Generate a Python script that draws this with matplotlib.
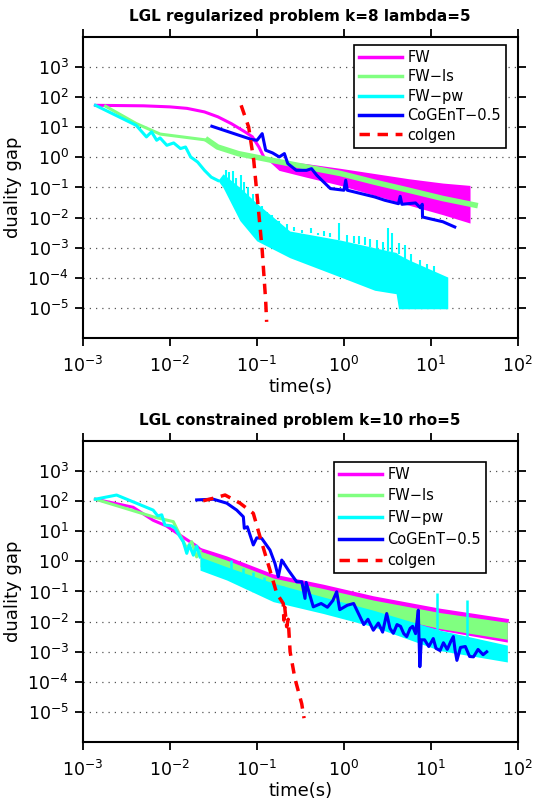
import numpy as np
import matplotlib
matplotlib.use("Agg")
import matplotlib.pyplot as plt
from matplotlib.ticker import FixedLocator, LogFormatterMathtext, NullLocator

plt.rcParams['font.family'] = ['DejaVu Sans']
plt.rcParams['mathtext.default'] = 'regular'

# ---------------- top panel: regularized problem ----------------
reg_fw_t = [1.40e-3, 5e-3, 0.0101, 0.0158, 0.0251, 0.0358, 0.0513, 0.0738, 0.0891, 0.106, 0.121]
reg_fw_g = [53, 51, 47, 42, 32, 22, 13, 6.9, 4.8, 2.2, 1.0]
reg_fw_band_t = [0.121, 0.15, 0.18, 0.37, 0.92, 2.26, 5.58, 13.8, 28.3]
reg_fw_band_hi = [1.0, 0.84, 0.78, 0.62, 0.43, 0.29, 0.195, 0.14, 0.117]
reg_fw_band_lo = [1.0, 0.6, 0.37, 0.22, 0.117, 0.055, 0.026, 0.0125, 0.0066]

reg_ls_t = [1.83e-3, 4.12e-3, 7.76e-3, 0.0274, 0.0355, 0.0617, 0.151, 0.37, 0.92, 2.26, 5.58, 13.8, 32.4]
reg_ls_g = [49.5, 13.2, 5.9, 3.7, 2.2, 1.32, 0.79, 0.48, 0.29, 0.15, 0.081, 0.043, 0.026]

reg_pw_t = [1.40e-3, 4.12e-3, 5.4e-3, 6.18e-3, 7.08e-3, 7.75e-3, 9.27e-3, 0.0111, 0.0133,
            0.0152, 0.0174, 0.0209, 0.0251, 0.030, 0.0358]
reg_pw_g = [53, 11.5, 4.75, 7.0, 3.68, 4.4, 2.5, 3.0, 1.95, 2.2, 1.03, 0.70, 0.37, 0.22, 0.17]
reg_pw_band_t = [0.0358, 0.041, 0.064, 0.1, 0.24, 0.92, 2.27, 4.0, 4.27, 5.58, 15.7]
reg_pw_band_hi = [0.17, 0.285, 0.1, 0.03, 3.6e-3, 1.8e-3, 1e-3, 7e-4, 6e-4, 4e-4, 1.07e-4]
reg_pw_band_lo = [0.17, 0.1, 8e-3, 1.7e-3, 4.7e-4, 1.07e-4, 3.9e-5, 3.0e-5, 9.5e-6, 9.5e-6, 9.5e-6]
reg_pw_spike_t = [0.044, 0.048, 0.053, 0.058, 0.066, 0.072, 0.08, 0.09, 0.1, 0.115, 0.13,
                  0.15, 0.18, 0.22, 0.27, 0.33, 0.42, 0.5, 0.6, 0.7, 0.88, 1.1, 1.3, 1.5,
                  1.75, 2.0, 2.4, 2.8, 3.25, 3.6, 4.3, 5.0, 6.0, 7.5, 9.0, 11.0]
reg_pw_spike_g = [0.37, 0.32, 0.36, 0.2, 0.25, 0.15, 0.1, 0.06, 0.04, 0.025, 0.015,
                  0.012, 8e-3, 6e-3, 5e-3, 4e-3, 4.7e-3, 3.2e-3, 3.5e-3, 3e-3, 6.6e-3, 2.6e-3,
                  2.4e-3, 2.5e-3, 2.2e-3, 2.0e-3, 1.8e-3, 1.6e-3, 4.4e-3, 3.0e-3, 1.4e-3, 1.2e-3,
                  6e-4, 4e-4, 3e-4, 2.5e-4]
reg_pw_spike_base = [0.2, 0.15, 0.12, 0.1, 0.08, 0.06, 0.045, 0.035, 0.03, 0.015, 8e-3,
                     6e-3, 5e-3, 4e-3, 3.5e-3, 3e-3, 3e-3, 2.6e-3, 2.5e-3, 2.2e-3, 1.8e-3, 1.6e-3,
                     1.4e-3, 1.3e-3, 1.2e-3, 1.1e-3, 9e-4, 8e-4, 8e-4, 7e-4, 6e-4, 4e-4,
                     3e-4, 2.5e-4, 2e-4, 1.5e-4]

reg_cg_t = [0.0305, 0.0883, 0.101, 0.1156, 0.1267, 0.152, 0.1816, 0.208, 0.2276, 0.285, 0.373,
            0.427, 0.49, 0.561, 0.703, 1.007, 1.054, 1.10, 2.27, 2.97, 4.26, 4.46, 4.66, 6.69,
            7.6, 8.0, 8.05, 9.6, 13.8, 18.9]
reg_cg_g = [10.7, 3.87, 3.68, 6.1, 1.72, 1.40, 1.03, 1.33, 0.62, 0.37, 0.37, 0.42, 0.254, 0.173,
            0.092, 0.081, 0.173, 0.081, 0.0485, 0.0376, 0.029, 0.051, 0.0277, 0.0307, 0.0213,
            0.0277, 0.0105, 0.0093, 0.0073, 0.0049]

reg_colgen_t = [0.0662, 0.0807, 0.0924, 0.1057, 0.1156, 0.1267, 0.130]
reg_colgen_g = [53, 10.2, 0.80, 0.0136, 8.2e-4, 1.8e-5, 3.5e-6]

# ---------------- bottom panel: constrained problem ----------------
con_band_t = [0.0223, 0.0452, 0.155, 0.583, 2.19, 12.8, 76]
con_fw_t = [1.40e-3, 3.8e-3, 6.45e-3, 9.2e-3, 0.0131, 0.0204, 0.0223]
con_fw_g = [115, 62, 23, 14.8, 7.4, 3.2, 2.5]
con_fw_hi = [2.5, 1.3, 0.33, 0.15, 0.062, 0.024, 0.011]
con_fw_lo = [1.6, 0.7, 0.15, 0.05, 0.017, 0.0052, 0.0021]

con_ls_t = [1.40e-3, 6.45e-3, 0.011, 0.0131, 0.0157, 0.0179, 0.0204, 0.0223]
con_ls_g = [115, 30, 20.7, 7.4, 2.7, 4.5, 1.4, 2.2]
con_ls_hi = [2.2, 1.1, 0.28, 0.125, 0.052, 0.02, 0.0095]
con_ls_lo = [0.66, 0.40, 0.143, 0.051, 0.0186, 5.9e-3, 2.6e-3]

con_pw_t = [1.40e-3, 2.45e-3, 6.45e-3, 7.3e-3, 8.1e-3, 8.8e-3, 0.0105, 0.0115, 0.0131, 0.0143,
            0.0157, 0.0168, 0.0187, 0.0204, 0.0223]
con_pw_g = [115, 158, 50, 32, 35, 16, 15, 12.6, 6.6, 4.5, 1.84, 3.5, 1.6, 3.2, 1.4]
con_pw_hi = [1.4, 0.66, 0.19, 0.066, 0.024, 5.2e-3, 1.66e-3]
con_pw_lo = [0.51, 0.24, 0.046, 0.0186, 6.8e-3, 1.1e-3, 4.6e-4]
con_pw_spike_t = [0.05, 0.07, 0.09, 0.12, 0.2, 0.3, 0.45, 11.7, 26]
con_pw_spike_g = [1.1, 0.6, 0.45, 0.3, 0.15, 0.09, 0.06, 0.086, 0.051]
con_pw_spike_base = [0.5, 0.3, 0.2, 0.12, 0.08, 0.05, 0.035, 4e-3, 2.5e-3]

con_cg_t = [0.0204, 0.0317, 0.0452, 0.0589, 0.0702, 0.072, 0.078, 0.0914, 0.1, 0.114, 0.142,
            0.162, 0.177, 0.194, 0.231, 0.288, 0.33, 0.359, 0.37, 0.447, 0.55, 0.65, 0.75, 0.83,
            0.9, 1.1, 1.3, 1.54, 1.7, 1.9, 2.19, 2.5, 2.8, 3.12, 3.4, 3.72, 4.1, 4.5, 4.9, 5.3,
            5.8, 6.2, 6.7, 7.2, 7.3, 7.5, 7.8, 8.5, 9.5, 10.7, 11.5, 12.8, 14, 15.5, 17, 18.2,
            19, 20, 22, 25, 28, 31, 35, 40, 44]
con_cg_g = [109, 115, 85, 50, 30, 12.5, 14, 3.5, 6, 5.8, 2.37, 0.855, 0.31, 1.1, 0.51, 0.21,
            0.21, 0.059, 0.2, 0.031, 0.04, 0.03, 0.05, 0.098, 0.025, 0.035, 0.04, 0.0145, 0.008,
            0.012, 5.2e-3, 9e-3, 4.5e-3, 0.0186, 6e-3, 4.1e-3, 8e-3, 7e-3, 4e-3, 3.2e-3, 6e-3,
            7e-3, 4e-3, 0.024, 5e-3, 3.2e-4, 2.5e-3, 2.5e-3, 1.5e-3, 2.75e-3, 1.3e-3, 1.1e-3,
            2e-3, 1.2e-3, 2.2e-3, 3.2e-3, 1.2e-3, 5.2e-4, 1.4e-3, 1.5e-3, 7e-4, 6.8e-4, 1.2e-3,
            8e-4, 1.0e-3]

con_colgen_t = [0.0243, 0.0347, 0.0433, 0.0643, 0.0914, 0.109, 0.142, 0.17, 0.202, 0.205, 0.21,
                0.221, 0.23, 0.242, 0.275, 0.329, 0.35]
con_colgen_g = [102, 132, 158, 85, 39, 6.6, 0.51, 0.086, 0.04, 0.0112, 0.03, 6.8e-3, 0.012,
                1e-3, 1.3e-4, 1.9e-5, 6.3e-6]

labels = ['FW', 'FW\u2212ls', 'FW\u2212pw', 'CoGEnT\u22120.5', 'colgen']
c_fw, c_ls, c_pw, c_cg, c_red = '#ff00ff', '#80ff80', '#00ffff', '#0000ff', '#ff0000'
y_ticks = [10.0 ** k for k in range(-5, 4)]
x_ticks = [10.0 ** k for k in range(-3, 3)]

fig = plt.figure(figsize=(5.34, 8.01), dpi=100)
ax1 = fig.add_axes([0.1549, 0.5777, 0.8146, 0.3765])
ax2 = fig.add_axes([0.1549, 0.0733, 0.8146, 0.3765])


def style(ax, title):
    ax.set_xscale('log')
    ax.set_yscale('log')
    ax.set_xlim(1e-3, 1e2)
    ax.set_ylim(1e-6, 1e4)
    ax.xaxis.set_major_locator(FixedLocator(x_ticks))
    ax.yaxis.set_major_locator(FixedLocator(y_ticks))
    ax.xaxis.set_minor_locator(NullLocator())
    ax.yaxis.set_minor_locator(NullLocator())
    ax.xaxis.set_major_formatter(LogFormatterMathtext())
    ax.yaxis.set_major_formatter(LogFormatterMathtext())
    ax.tick_params(which='both', direction='out', top=True, right=True,
                   length=6, width=1.3, labelsize=12.5)
    ax.tick_params(axis='x', pad=7)
    ax.tick_params(axis='y', pad=4)
    for s in ax.spines.values():
        s.set_linewidth(1.5)
    ax.yaxis.grid(True, linestyle=(0, (1, 4)), color='#555555', linewidth=0.9)
    ax.set_axisbelow(True)
    ax.set_xlabel('time(s)', fontsize=13, labelpad=1)
    ax.set_ylabel('duality gap', fontsize=13, labelpad=4)
    ax.set_title(title, fontsize=11, fontweight='bold', pad=11)


def add_legend(ax, anchor, spacing):
    leg = ax.legend(loc='upper right', bbox_to_anchor=anchor, borderaxespad=0,
                    fontsize=10.5, frameon=True, fancybox=False, edgecolor='black',
                    framealpha=1, handlelength=2.95, handletextpad=0.35,
                    borderpad=0.35, labelspacing=spacing)
    leg.get_frame().set_linewidth(1.2)
    for h in leg.get_lines():
        h.set_linewidth(2.5)


# top
ax1.fill_between(reg_fw_band_t, reg_fw_band_lo, reg_fw_band_hi, color=c_fw, lw=0)
ax1.plot(reg_fw_t, reg_fw_g, color=c_fw, lw=2.2, label=labels[0])
ax1.plot(reg_ls_t, reg_ls_g, color=c_ls, lw=2.2, label=labels[1])
ax1.plot(reg_ls_t[3:], reg_ls_g[3:], color=c_ls, lw=4)
ax1.fill_between(reg_pw_band_t, reg_pw_band_lo, reg_pw_band_hi, color=c_pw, lw=0)
ax1.vlines(reg_pw_spike_t, reg_pw_spike_base, reg_pw_spike_g, color=c_pw, lw=1.5)
ax1.plot(reg_pw_t, reg_pw_g, color=c_pw, lw=2.2, label=labels[2])
ax1.plot(reg_cg_t, reg_cg_g, color=c_cg, lw=2.2, label=labels[3])
ax1.plot(reg_colgen_t, reg_colgen_g, color=c_red, lw=2.5, ls=(0, (3, 2.2)), label=labels[4])
style(ax1, 'LGL regularized problem k=8 lambda=5')
add_legend(ax1, (0.973, 0.9725), 0.3)

# bottom
ax2.fill_between(con_band_t, con_fw_lo, con_fw_hi, color=c_fw, lw=0)
ax2.plot(con_fw_t, con_fw_g, color=c_fw, lw=2.2, label=labels[0])
ax2.plot(con_band_t, con_fw_hi, color=c_fw, lw=2.2)
ax2.fill_between(con_band_t, con_ls_lo, con_ls_hi, color=c_ls, lw=0)
ax2.plot(con_ls_t, con_ls_g, color=c_ls, lw=2.2, label=labels[1])
ax2.fill_between(con_band_t, con_pw_lo, con_pw_hi, color=c_pw, lw=0)
ax2.vlines(con_pw_spike_t, con_pw_spike_base, con_pw_spike_g, color=c_pw, lw=1.8)
ax2.plot(con_pw_t, con_pw_g, color=c_pw, lw=2.2, label=labels[2])
ax2.plot(con_cg_t, con_cg_g, color=c_cg, lw=2.2, label=labels[3])
ax2.plot(con_colgen_t, con_colgen_g, color=c_red, lw=2.5, ls=(0, (3, 2.2)), label=labels[4])
style(ax2, 'LGL constrained problem k=10 rho=5')
add_legend(ax2, (0.927, 0.930), 0.45)

fig.savefig('out.png', dpi=100)
